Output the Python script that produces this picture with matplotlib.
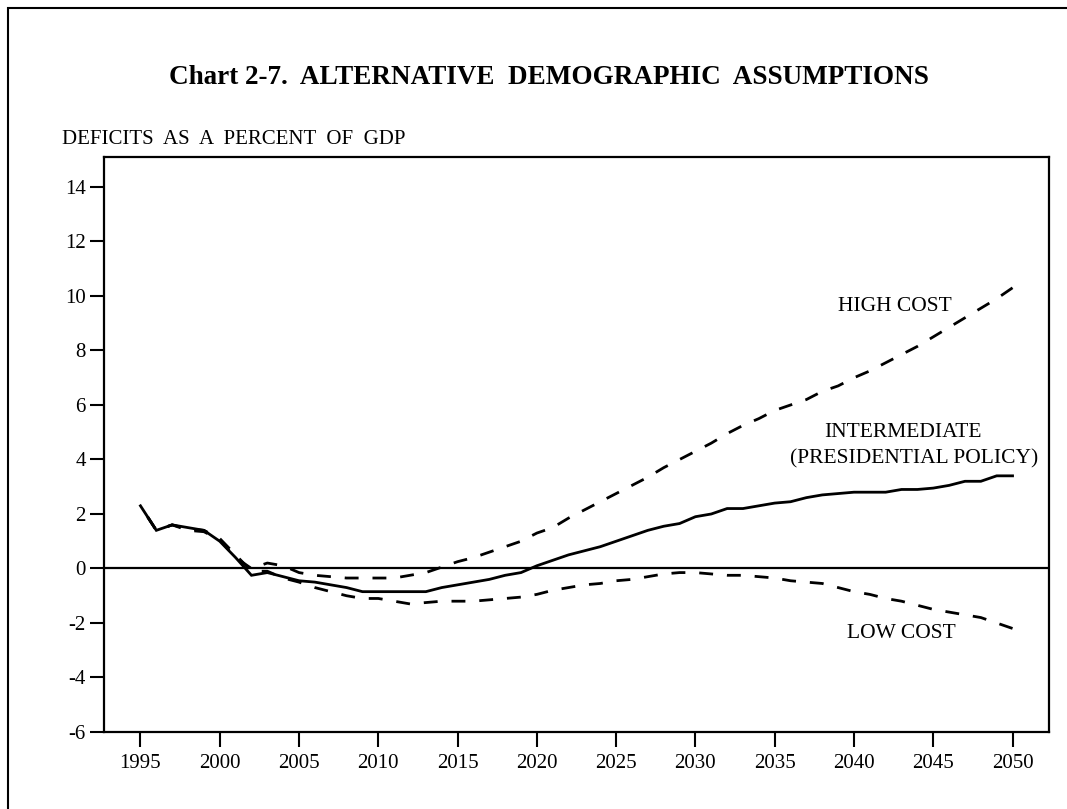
import matplotlib
matplotlib.use("Agg")
import matplotlib.pyplot as plt
import numpy as np

years = np.arange(1995, 2051)

intermediate = [2.3, 1.4, 1.6, 1.5, 1.4, 1.0, 0.4, -0.25, -0.15, -0.3,
                -0.45, -0.5, -0.6, -0.7, -0.85, -0.85, -0.85, -0.85, -0.85, -0.7,
                -0.6, -0.5, -0.4, -0.25, -0.15, 0.1, 0.3, 0.5, 0.65, 0.8,
                1.0, 1.2, 1.4, 1.55, 1.65, 1.9, 2.0, 2.2, 2.2, 2.3,
                2.4, 2.45, 2.6, 2.7, 2.75, 2.8, 2.8, 2.8, 2.9, 2.9,
                2.95, 3.05, 3.2, 3.2, 3.4, 3.4]

high_cost = [2.3, 1.4, 1.6, 1.4, 1.35, 1.05, 0.4, 0.0, 0.2, 0.1,
             -0.15, -0.25, -0.3, -0.35, -0.35, -0.35, -0.35, -0.25, -0.15, 0.05,
             0.25, 0.4, 0.6, 0.8, 1.0, 1.3, 1.5, 1.85, 2.15, 2.45,
             2.75, 3.05, 3.35, 3.7, 4.0, 4.3, 4.6, 4.95, 5.25, 5.5,
             5.8, 6.0, 6.2, 6.5, 6.7, 7.0, 7.25, 7.55, 7.85, 8.15,
             8.5, 8.85, 9.2, 9.55, 9.9, 10.3]

low_cost = [2.3, 1.4, 1.6, 1.45, 1.4, 1.1, 0.5, -0.1, -0.1, -0.35,
            -0.5, -0.7, -0.85, -1.0, -1.1, -1.1, -1.2, -1.3, -1.25, -1.2,
            -1.2, -1.2, -1.15, -1.1, -1.05, -0.95, -0.8, -0.7, -0.6, -0.55,
            -0.45, -0.4, -0.3, -0.2, -0.15, -0.15, -0.2, -0.25, -0.25, -0.3,
            -0.35, -0.45, -0.5, -0.55, -0.7, -0.85, -0.95, -1.1, -1.2, -1.35,
            -1.5, -1.6, -1.7, -1.8, -2.0, -2.2]

yticks = [-6, -4, -2, 0, 2, 4, 6, 8, 10, 12, 14]
xticks = list(range(1995, 2051, 5))

plt.rcParams['font.family'] = ['Liberation Serif', 'DejaVu Serif']
plt.rcParams['axes.unicode_minus'] = False

W, H = 1067, 809
fig = plt.figure(figsize=(W / 100, H / 100), dpi=100)

# outer frame of the page
fig.patches.append(plt.Rectangle((8 / W, -0.1), 1.2, 1 - 8 / H + 0.1, transform=fig.transFigure,
                                 fill=False, edgecolor="black", linewidth=1.5))

ax = fig.add_axes([104 / W, 1 - 732 / H, (1049 - 104) / W, (732 - 157) / H])

ax.plot(years, intermediate, color="black", linewidth=2.0, solid_joinstyle="miter")
# dashed lines drawn from 2050 backwards so the dash pattern ends on a dash at 2050
ax.plot(years[::-1], high_cost[::-1], color="black", linewidth=2.0, dashes=(5, 5))
ax.plot(years[::-1], low_cost[::-1], color="black", linewidth=2.0, dashes=(5, 5))
ax.axhline(0, color="black", linewidth=1.6)

ax.set_xlim(1992.7, 2052.3)
ax.set_ylim(-6, 15.1)
ax.set_xticks(xticks)
ax.set_yticks(yticks)
ax.tick_params(axis="x", direction="out", length=11, width=1.5, labelsize=15, pad=5)
ax.tick_params(axis="y", direction="out", length=10, width=1.5, labelsize=15, pad=3)
for s in ax.spines.values():
    s.set_linewidth(1.6)

ax.text(2042.6, 9.6, "HIGH COST", fontsize=15.5, ha="center", va="center")
ax.text(2043.1, 5.0, "INTERMEDIATE", fontsize=15.5, ha="center", va="center")
ax.text(2043.8, 4.04, "(PRESIDENTIAL POLICY)", fontsize=15.5, ha="center", va="center")
ax.text(2043.0, -2.39, "LOW COST", fontsize=15.5, ha="center", va="center")

fig.text(549 / W, 1 - 78 / H, "Chart 2-7.  ALTERNATIVE  DEMOGRAPHIC  ASSUMPTIONS",
         fontsize=19.5, fontweight="bold", ha="center", va="center")
fig.text(62 / W, 1 - 140 / H, "DEFICITS  AS  A  PERCENT  OF  GDP", fontsize=15, ha="left", va="center")

fig.savefig("out.png", dpi=100)
